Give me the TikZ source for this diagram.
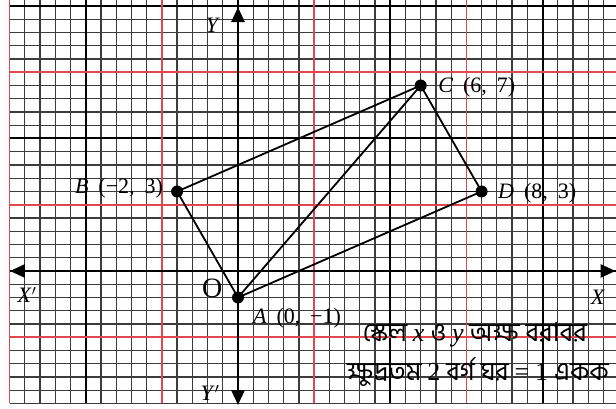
\documentclass[tikz,border=0pt]{standalone}
\usepackage{fontspec}
\setmainfont{Liberation Serif}
\newfontfamily\bnfont[Script=Bengali]{Hind Siliguri}
\usepackage{xcolor}
\usepackage{tikz}
\usetikzlibrary{arrows.meta}
\definecolor{gridred}{HTML}{E0474F}
\definecolor{gridgrey}{HTML}{3C3C3C}
\newcommand{\gap}{\hspace{0.45em}}

\begin{document}
\begin{tikzpicture}[
  x=30.45pt, y=26.5pt,
  minorline/.style={gridgrey, line width=1.3pt},
  majorline/.style={black, line width=2pt},
  redline/.style={gridred, line width=1.7pt},
  axisline/.style={black, line width=2.8pt, {Triangle[length=15pt,width=13pt]}-{Triangle[length=15pt,width=13pt]}},
  edge/.style={black, line width=1.8pt},
  dot/.style={circle, fill=black, inner sep=0pt, minimum size=12pt},
  lbl/.style={font=\fontsize{22}{26}\selectfont, inner sep=0pt},
  bn/.style={font=\fontsize{26}{30}\selectfont\bnfont, inner sep=0pt}
]
  \useasboundingbox (-238pt,-138pt) rectangle (378pt,271pt);
  % graph paper
  \foreach \i in {-15,...,24} \draw[minorline] (\i/2,-5) -- (\i/2,10.25);
  \foreach \j in {-10,...,20} \draw[minorline] (-7.5,\j/2) -- (12.45,\j/2);
  \foreach \x in {-5,0,5,10} \draw[majorline] (\x,-5) -- (\x,10.25);
  \foreach \y in {0,5,10} \draw[majorline] (-7.5,\y) -- (12.45,\y);
  \foreach \x in {-7.5,-2.5,2.5,7.5} \draw[redline] (\x,-5) -- (\x,10.25);
  \foreach \y in {-2.5,2.5,7.5} \draw[redline] (-7.5,\y) -- (12.45,\y);

  % axes
  \coordinate (xneg) at (-7.49,0);
  \coordinate (xpos) at (12.40,0);
  \coordinate (yneg) at (0,-5.06);
  \coordinate (ypos) at (0,9.96);
  \draw[axisline] (xneg) -- (xpos);
  \draw[axisline] (yneg) -- (ypos);
  \node[lbl] (xnegl) at (-6.93,-0.9) {\textit{X}$'$};
  \node[lbl] (xposl) at (11.82,-0.98) {\textit{X}};
  \node[lbl] (yposl) at (-0.82,9.28) {\textit{Y}};
  \node[lbl] (ynegl) at (-0.92,-4.6) {\textit{Y}$'$};
  \node[font=\fontsize{28}{30}\selectfont, inner sep=0pt] (orig) at (-0.85,-0.64) {O};

  % points
  \node[dot] (A) at (0,-1) {};
  \node[dot] (B) at (-2,3) {};
  \node[dot] (C) at (6,7) {};
  \node[dot] (D) at (8,3) {};
  \draw[edge] (A.center) -- (B.center) -- (C.center) -- (D.center) -- (A.center) -- (C.center);
  \draw[edge] (B.center) -- (D.center);
  \node[lbl, anchor=west] (Alabel) at (0.49,-1.77) {\textit{A}\gap(0,\gap−1)};
  \node[lbl, anchor=east] (Blabel) at (-2.46,3.13) {\textit{B}\gap(−2,\gap3)};
  \node[lbl, anchor=west] (Clabel) at (6.57,6.94) {\textit{C}\gap(6,\gap7)};
  \node[lbl, anchor=west] (Dlabel) at (8.54,2.94) {\textit{D}\gap(8,\gap3)};

  % scale note
  \node[bn] (scale1) at (7.78,-2.42) {স্কেল {\rmfamily\textit{x}} ও {\rmfamily\textit{y}} অক্ষ বরাবর};
  \node[bn] (scale2) at (7.88,-3.81) {ক্ষুদ্রতম {\rmfamily 2} বর্গ ঘর {\rmfamily =} {\rmfamily 1} একক};
\end{tikzpicture}
\end{document}
